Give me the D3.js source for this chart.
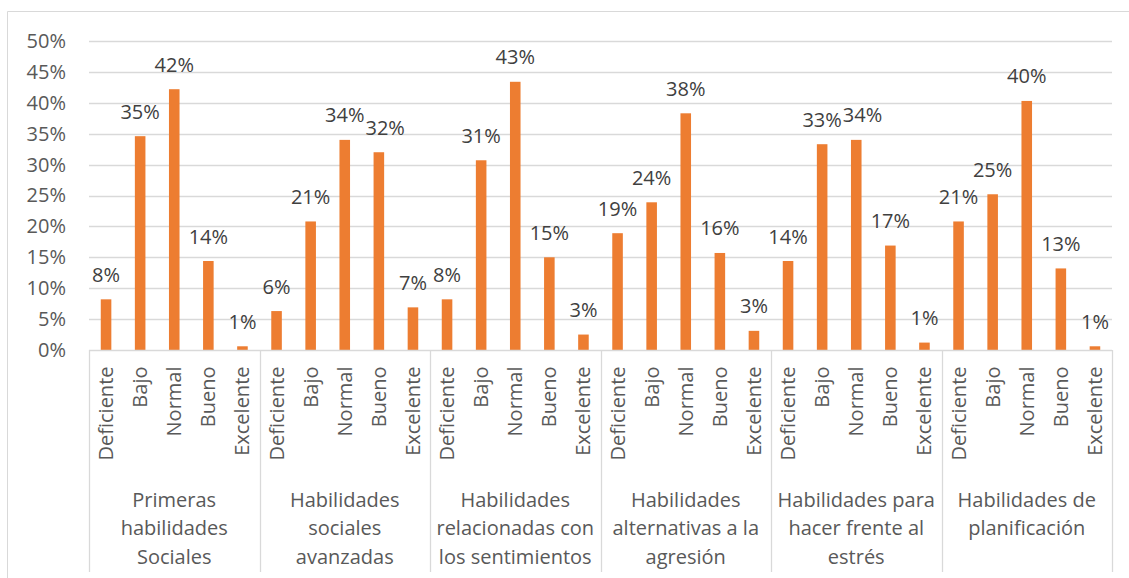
<!DOCTYPE html>
<html>
<head>
<meta charset="utf-8">
<script src="https://cdn.jsdelivr.net/npm/d3@7"></script>
<style>
  html, body { margin: 0; padding: 0; background: #fff; }
  svg { display: block; font-family: "Open Sans", Lato, sans-serif; }
</style>
</head>
<body>
<svg id="chart" width="1129" height="578"></svg>
<script>
// ---- data ----
const groups = [
  "Primeras habilidades Sociales",
  "Habilidades sociales avanzadas",
  "Habilidades relacionadas con los sentimientos",
  "Habilidades alternativas a la agresión",
  "Habilidades para hacer frente al estrés",
  "Habilidades de planificación"
];
const groupLines = [
  ["Primeras", "habilidades", "Sociales"],
  ["Habilidades", "sociales", "avanzadas"],
  ["Habilidades", "relacionadas con", "los sentimientos"],
  ["Habilidades", "alternativas a la", "agresión"],
  ["Habilidades para", "hacer frente al", "estrés"],
  ["Habilidades de", "planificación"]
];
const levels = ["Deficiente", "Bajo", "Normal", "Bueno", "Excelente"];
const primerasValues      = [8.2, 34.6, 42.2, 14.4, 0.6];
const socialesAvValues    = [6.3, 20.8, 34.0, 32.0, 6.9];
const sentimientosValues  = [8.2, 30.7, 43.4, 15.0, 2.5];
const agresionValues      = [18.9, 23.9, 38.3, 15.7, 3.1];
const estresValues        = [14.4, 33.3, 34.0, 16.9, 1.2];
const planificacionValues = [20.8, 25.2, 40.3, 13.2, 0.6];
const seriesValues = [primerasValues, socialesAvValues, sentimientosValues,
                      agresionValues, estresValues, planificacionValues];
const yTicks = [0, 5, 10, 15, 20, 25, 30, 35, 40, 45, 50];

// ---- layout ----
const svg = d3.select("#chart");
const plot = { left: 89, right: 1112, top: 41, bottom: 350 };
const fontSize = 20;

const rows = [];
groups.forEach((g, gi) => levels.forEach((l, li) => {
  rows.push({ key: gi + "|" + li, group: gi, level: l, value: seriesValues[gi][li] });
}));

const pad = 0.69;
const x = d3.scaleBand().domain(rows.map(d => d.key))
  .range([plot.left, plot.right]).paddingInner(pad).paddingOuter(pad / 2);
const xg = d3.scaleBand().domain(groups.map((g, i) => i)).range([plot.left, plot.right]).padding(0);
const y = d3.scaleLinear().domain([0, 50]).range([plot.bottom, plot.top]);

// outer chart border (top & left visible)
svg.append("line").attr("x1", 7.5).attr("x2", 1129).attr("y1", 11.5).attr("y2", 11.5)
  .attr("stroke", "#d9d9d9").attr("stroke-width", 1);
svg.append("line").attr("x1", 7.5).attr("x2", 7.5).attr("y1", 11.5).attr("y2", 578)
  .attr("stroke", "#d9d9d9").attr("stroke-width", 1);

// gridlines
svg.append("g").selectAll("line").data(yTicks.filter(t => t > 0)).join("line")
  .attr("x1", plot.left).attr("x2", plot.right)
  .attr("y1", d => Math.round(y(d)) + 0.5).attr("y2", d => Math.round(y(d)) + 0.5)
  .attr("stroke", "#d9d9d9").attr("stroke-width", 1.3);

// y axis labels
const yAxis = d3.axisLeft(y).tickValues(yTicks).tickFormat(d => d + "%").tickSize(0).tickPadding(23);
const ya = svg.append("g").attr("transform", `translate(${plot.left},0)`).call(yAxis);
ya.select(".domain").remove();
ya.selectAll("text").attr("font-size", fontSize).attr("fill", "#595959")
  .attr("font-family", "'Open Sans', Lato, sans-serif");

// bars
svg.append("g").selectAll("rect").data(rows).join("rect")
  .attr("x", d => x(d.key)).attr("width", x.bandwidth())
  .attr("y", d => y(d.value)).attr("height", d => y(0) - y(d.value))
  .attr("fill", "#ED7D31");

// data labels (with simple overlap avoidance: shift right like Excel does)
const labels = svg.append("g").selectAll("text").data(rows).join("text")
  .attr("x", d => x(d.key) + x.bandwidth() / 2)
  .attr("y", d => y(d.value) - 17.5)
  .attr("text-anchor", "middle")
  .attr("font-size", fontSize).attr("fill", "#404040")
  .text(d => Math.round(d.value) + "%");
let prev = null;
labels.each(function () {
  const b = this.getBBox();
  if (prev) {
    const vOverlap = b.y < prev.y + prev.height - 4 && prev.y < b.y + b.height - 4;
    const hOverlap = prev.x + prev.width - b.x;
    if (vOverlap && hOverlap > 0) {
      const shift = hOverlap + 1;
      d3.select(this).attr("x", +d3.select(this).attr("x") + shift);
      b.x += shift;
    }
  }
  prev = { x: b.x, y: b.y, width: b.width, height: b.height };
});

// category axis line
svg.append("line").attr("x1", plot.left).attr("x2", plot.right)
  .attr("y1", plot.bottom + 0.5).attr("y2", plot.bottom + 0.5)
  .attr("stroke", "#d9d9d9").attr("stroke-width", 1.3);

// group separators
const seps = groups.map((g, i) => xg(i)).concat([plot.right]);
svg.append("g").selectAll("line").data(seps).join("line")
  .attr("x1", d => Math.round(d) + 0.5).attr("x2", d => Math.round(d) + 0.5)
  .attr("y1", plot.bottom).attr("y2", 572)
  .attr("stroke", "#d9d9d9").attr("stroke-width", 1.3);

// rotated level labels
svg.append("g").selectAll("text").data(rows).join("text")
  .attr("transform", d => `translate(${x(d.key) + x.bandwidth() / 2},366.5) rotate(-90)`)
  .attr("text-anchor", "end").attr("dy", "0.35em")
  .attr("font-size", fontSize).attr("fill", "#595959")
  .text(d => d.level);

// group labels
const gl = svg.append("g").selectAll("text").data(groupLines).join("text")
  .attr("text-anchor", "middle").attr("font-size", fontSize).attr("fill", "#595959");
gl.selectAll("tspan").data((lines, i) => lines.map(t => ({ t, i }))).join("tspan")
  .attr("x", d => xg(d.i) + xg.bandwidth() / 2)
  .attr("y", (d, j) => 506.5 + j * 28.5)
  .text(d => d.t);
</script>
</body>
</html>
